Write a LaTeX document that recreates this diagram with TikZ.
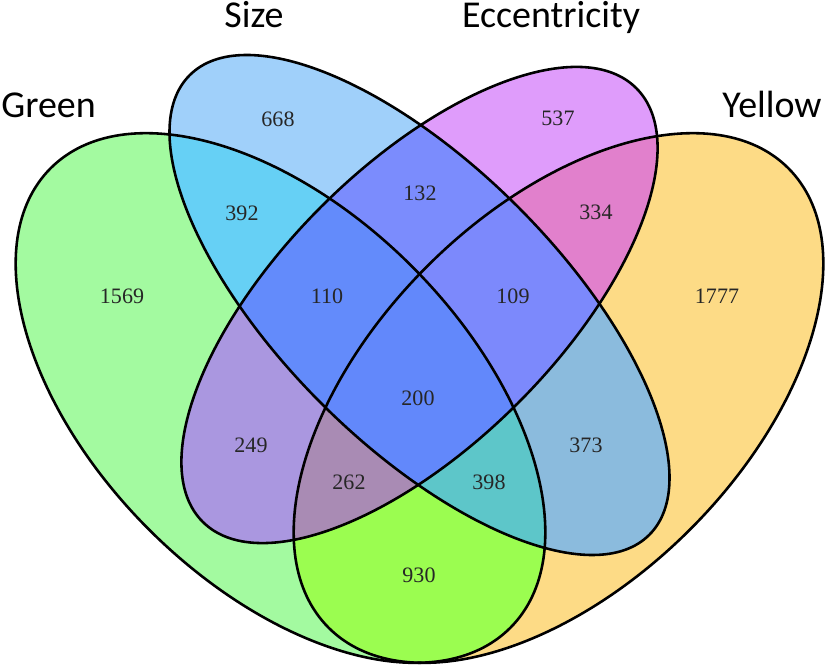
\documentclass[tikz,border=0pt]{standalone}
\usepackage{fontspec}
\setmainfont{Liberation Serif}
\newfontfamily\namefont{Carlito}

% region colours (one, two, three and four sets)
\definecolor{vdGreen}{HTML}{A3FAA0}
\definecolor{vdSize}{HTML}{A0D0FA}
\definecolor{vdEcc}{HTML}{DF9CFB}
\definecolor{vdYellow}{HTML}{FDDB86}
\definecolor{vdGS}{HTML}{66D0F5}
\definecolor{vdGE}{HTML}{AA97E0}
\definecolor{vdGY}{HTML}{9BFD50}
\definecolor{vdSE}{HTML}{7B8CFD}
\definecolor{vdSY}{HTML}{8BBBDD}
\definecolor{vdEY}{HTML}{E180CC}
\definecolor{vdGSE}{HTML}{638BFB}
\definecolor{vdGSY}{HTML}{5DC6C9}
\definecolor{vdGEY}{HTML}{A98BB4}
\definecolor{vdSEY}{HTML}{7C89FC}
\definecolor{vdAll}{HTML}{6288FB}

% the four sets
\newcommand{\vennGreen}{(280.5,267) ellipse [x radius=325, y radius=186, rotate=-45]}
\newcommand{\vennSize}{(419.5,360) ellipse [x radius=325, y radius=139, rotate=-45]}
\newcommand{\vennEcc}{(419.5,360) ellipse [x radius=306.6, y radius=139, rotate=45]}
\newcommand{\vennYellow}{(558.5,267) ellipse [x radius=325, y radius=186, rotate=45]}

\begin{document}
\begin{tikzpicture}[
    x=0.03cm, y=0.03cm,
    outline/.style={draw=black, line width=2.2pt},
    count/.style={font=\fontsize{18.8}{20}\selectfont, text=black!85},
    setname/.style={font=\namefont\fontsize{32.4}{36}\selectfont, anchor=base, inner sep=0pt}
]
\useasboundingbox (0,0) rectangle (826,665);

% single sets
\fill[vdGreen] \vennGreen;
\fill[vdSize] \vennSize;
\fill[vdEcc] \vennEcc;
\fill[vdYellow] \vennYellow;

% pairs
\begin{scope} \clip \vennGreen; \fill[vdGS] \vennSize; \end{scope}
\begin{scope} \clip \vennGreen; \fill[vdGE] \vennEcc; \end{scope}
\begin{scope} \clip \vennGreen; \fill[vdGY] \vennYellow; \end{scope}
\begin{scope} \clip \vennSize; \fill[vdSE] \vennEcc; \end{scope}
\begin{scope} \clip \vennSize; \fill[vdSY] \vennYellow; \end{scope}
\begin{scope} \clip \vennEcc; \fill[vdEY] \vennYellow; \end{scope}

% triples
\begin{scope} \clip \vennGreen; \clip \vennSize; \fill[vdGSE] \vennEcc; \end{scope}
\begin{scope} \clip \vennGreen; \clip \vennSize; \fill[vdGSY] \vennYellow; \end{scope}
\begin{scope} \clip \vennGreen; \clip \vennEcc; \fill[vdGEY] \vennYellow; \end{scope}
\begin{scope} \clip \vennSize; \clip \vennEcc; \fill[vdSEY] \vennYellow; \end{scope}

% all four
\begin{scope} \clip \vennGreen; \clip \vennSize; \clip \vennEcc; \fill[vdAll] \vennYellow; \end{scope}

% outlines
\path[outline] \vennGreen;
\path[outline] \vennSize;
\path[outline] \vennEcc;
\path[outline] \vennYellow;

% counts
\node[count] (nG) at (122,369) {1569};
\node[count] (nS) at (278,546) {668};
\node[count] (nE) at (558,547) {537};
\node[count] (nY) at (717,369) {1777};
\node[count] (nGS) at (242,452) {392};
\node[count] (nSE) at (420,472) {132};
\node[count] (nEY) at (596,453) {334};
\node[count] (nGE) at (251,220) {249};
\node[count] (nSY) at (586,220) {373};
\node[count] (nGY) at (419,90) {930};
\node[count] (nGSE) at (327,369) {110};
\node[count] (nSEY) at (513,369) {109};
\node[count] (nGEY) at (349,183) {262};
\node[count] (nGSY) at (489,183) {398};
\node[count] (nAll) at (418,267) {200};

% set names
\node[setname] (lGreen) at (48.5,547) {Green};
\node[setname] (lSize) at (254,637) {Size};
\node[setname] (lEcc) at (551,637) {Eccentricity};
\node[setname] (lYellow) at (772,547) {Yellow};

\end{tikzpicture}
\end{document}
